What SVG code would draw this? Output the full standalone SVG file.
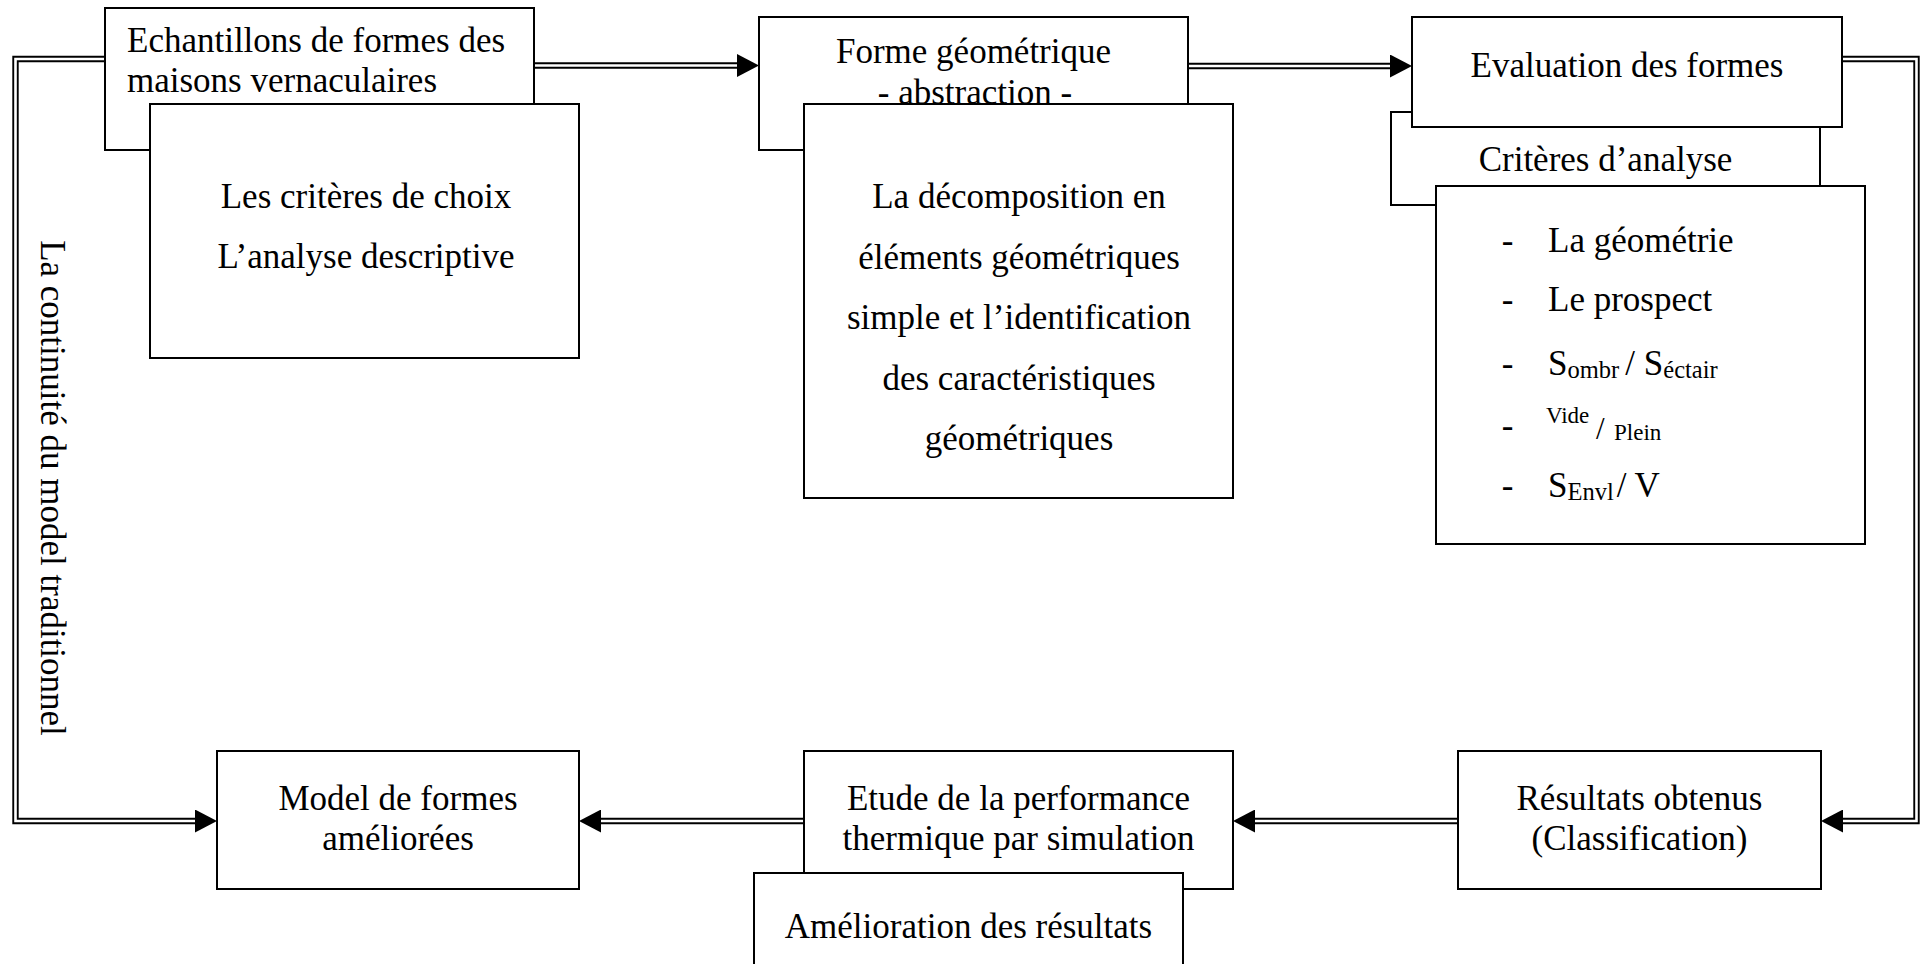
<svg xmlns="http://www.w3.org/2000/svg" width="1925" height="964" viewBox="0 0 1925 964">
  <style>
    .box { fill: #ffffff; stroke: #000000; stroke-width: 2; }
    .t { font-family: "Liberation Serif", "Times New Roman", serif; font-size: 35px; fill: #000000; }
    .c { text-anchor: middle; }
    .sub { font-size: 24.5px; }
    .small { font-size: 23px; }
    .dl-outer { fill: none; stroke: #000000; stroke-width: 6.4; stroke-linejoin: miter; marker-end: url(#head); }
    .dl-inner { fill: none; stroke: #ffffff; stroke-width: 2.6; stroke-linejoin: miter; }
  </style>
  <defs>
    <marker id="head" markerUnits="userSpaceOnUse" markerWidth="22" markerHeight="23" viewBox="0 0 22 23" refX="0" refY="11.5" orient="auto">
      <path d="M0,0 L22,11.5 L0,23 Z" fill="#000000"/>
    </marker>
  </defs>

  <rect x="0" y="0" width="1925" height="964" fill="#ffffff"/>

  <!-- double-line connectors -->
  <g id="connectors">
    <path class="dl-outer" d="M105,59 H15.5 V821 H195"/>
    <path class="dl-inner" d="M105,59 H15.5 V821 H195"/>
    <path class="dl-outer" d="M534,65.5 H737"/>
    <path class="dl-inner" d="M534,65.5 H737"/>
    <path class="dl-outer" d="M1188,66 H1390"/>
    <path class="dl-inner" d="M1188,66 H1390"/>
    <path class="dl-outer" d="M1842,59 H1916.5 V821 H1843"/>
    <path class="dl-inner" d="M1842,59 H1916.5 V821 H1843"/>
    <path class="dl-outer" d="M1458,821 H1255"/>
    <path class="dl-inner" d="M1458,821 H1255"/>
    <path class="dl-outer" d="M804,821 H601"/>
    <path class="dl-inner" d="M804,821 H601"/>
  </g>

  <g id="label-continuite">
    <text class="t c" transform="translate(40.5,488) rotate(90)" x="0" y="0">La continuité du model traditionnel</text>
  </g>

  <g id="n-echantillons">
    <rect class="box" x="105" y="8" width="429" height="142"/>
    <text class="t" x="127" y="52">Echantillons de formes des</text>
    <text class="t" x="127" y="92">maisons vernaculaires</text>
  </g>

  <g id="n-criteres-choix">
    <rect class="box" x="150" y="104" width="429" height="254"/>
    <text class="t c" x="366" y="208">Les critères de choix</text>
    <text class="t c" x="366" y="268">L’analyse descriptive</text>
  </g>

  <g id="n-forme">
    <rect class="box" x="759" y="17" width="429" height="133"/>
    <text class="t c" x="973.5" y="63">Forme géométrique</text>
    <text class="t c" x="975" y="104">- abstraction -</text>
  </g>

  <g id="n-decomposition">
    <rect class="box" x="804" y="104" width="429" height="394"/>
    <text class="t c" x="1019" y="208">La décomposition en</text>
    <text class="t c" x="1019" y="268.5">éléments géométriques</text>
    <text class="t c" x="1019" y="329">simple et l’identification</text>
    <text class="t c" x="1019" y="389.5">des caractéristiques</text>
    <text class="t c" x="1019" y="450">géométriques</text>
  </g>

  <g id="n-criteres-analyse">
    <rect class="box" x="1391" y="112" width="429" height="93"/>
    <text class="t c" x="1605.5" y="171">Critères d’analyse</text>
  </g>

  <g id="n-evaluation">
    <rect class="box" x="1412" y="17" width="430" height="110"/>
    <text class="t c" x="1627" y="77">Evaluation des formes</text>
  </g>

  <g id="n-liste">
    <rect class="box" x="1436" y="186" width="429" height="358"/>
    <text class="t c" x="1507.5" y="252">-</text>
    <text class="t" x="1548" y="252">La géométrie</text>
    <text class="t c" x="1507.5" y="311">-</text>
    <text class="t" x="1548" y="311">Le prospect</text>
    <text class="t c" x="1507.5" y="375">-</text>
    <text class="t" x="1548" y="375">S<tspan class="sub" dy="3">ombr </tspan><tspan dy="-3">/ S</tspan><tspan class="sub" dy="3">éctair</tspan></text>
    <text class="t c" x="1507.5" y="436.5">-</text>
    <text class="t small" x="1546" y="423.3">Vide</text>
    <text class="t" x="1596" y="439" style="font-size:31px">/</text>
    <text class="t small" x="1614" y="440">Plein</text>
    <text class="t c" x="1507.5" y="497">-</text>
    <text class="t" x="1548" y="497">S<tspan class="sub" dy="3">Envl</tspan><tspan dy="-3" dx="3">/ V</tspan></text>
  </g>

  <g id="n-model">
    <rect class="box" x="217" y="751" width="362" height="138"/>
    <text class="t c" x="398" y="810">Model de formes</text>
    <text class="t c" x="398" y="850">améliorées</text>
  </g>

  <g id="n-etude">
    <rect class="box" x="804" y="751" width="429" height="138"/>
    <text class="t c" x="1018.5" y="810">Etude de la performance</text>
    <text class="t c" x="1018.5" y="850">thermique par simulation</text>
  </g>

  <g id="n-amelioration">
    <rect class="box" x="754" y="873" width="429" height="120"/>
    <text class="t c" x="968.5" y="938">Amélioration des résultats</text>
  </g>

  <g id="n-resultats">
    <rect class="box" x="1458" y="751" width="363" height="138"/>
    <text class="t c" x="1639.5" y="810">Résultats obtenus</text>
    <text class="t c" x="1639.5" y="850">(Classification)</text>
  </g>
</svg>
